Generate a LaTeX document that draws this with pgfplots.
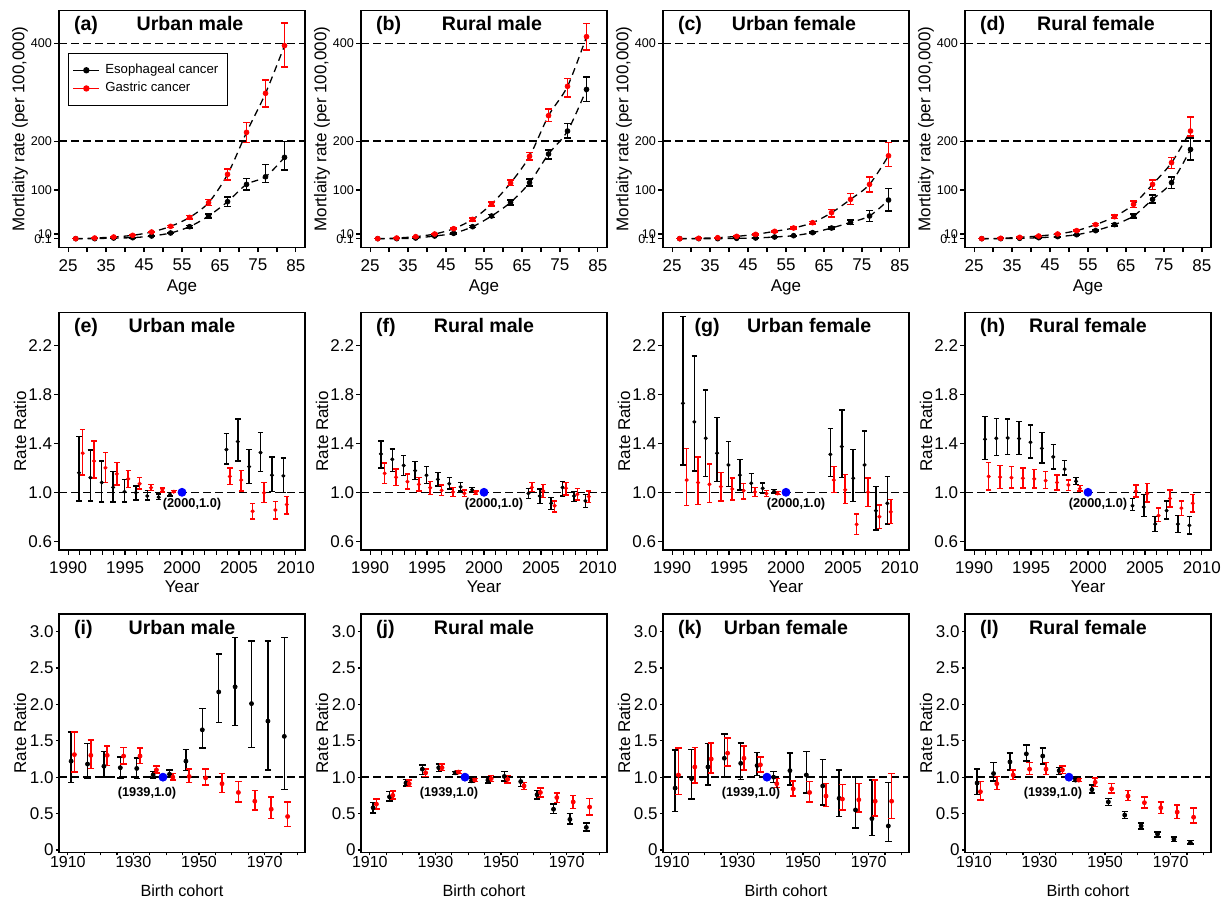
\documentclass[border=0pt]{standalone}
\usepackage{fontspec}
\setmainfont{Liberation Sans}
\usepackage{pgfplots}
\usepackage{pgfplotstable}
\pgfplotsset{compat=1.18}

\newcommand{\tk}{\fontsize{8.5}{10}\selectfont}
\newcommand{\tf}{\fontsize{9.8}{11}\selectfont\bfseries}
\newcommand{\an}{\fontsize{6.4}{7.5}\selectfont\bfseries}

% age curves: age, esophageal (y, low, high), gastric (y, low, high)
\pgfplotstableread{
age yb lb hb yr lr hr
27 0.3 0.2 0.4 0.3 0.2 0.4
32 0.3 0.2 0.4 1.6 1.3 1.9
37 1.6 1.3 1.9 3.7 3.2 4.2
42 2.3 1.9 2.7 7.1 6.3 7.9
47 5.7 5.0 6.4 13.9 12.6 15.2
52 11.9 10.6 13.2 25.5 23.5 27.5
57 24.8 22.5 27.1 43.9 40.5 47.3
62 46.7 42.5 50.9 74 68 81
67 76 66 86 132 120 143
72 111.5 100 124 218 197 238
77 127 115 152 298 270 325
82 166.8 141 199 395.6 352 442
}\tabA
\pgfplotstableread{
age yb lb hb yr lr hr
27 0.3 0.2 0.4 0.3 0.2 0.4
32 0.3 0.2 0.4 1.6 1.3 1.9
37 1.6 1.3 1.9 4.4 3.9 4.9
42 5.7 5.0 6.4 9.8 8.9 10.7
47 11.2 10.1 12.3 20.7 19.0 22.4
52 24.8 22.8 26.8 39.8 36.8 42.8
57 46.7 43.5 49.9 71.3 66.8 75.8
62 74.7 69.7 79.7 114.3 109 120
67 114.9 108 122 169 161 177
72 173.6 163 182 252.2 240 266
77 220.7 206 236 312.3 290 328
82 306 281 331 413.9 387 441
}\tabB
\pgfplotstableread{
age yb lb hb yr lr hr
27 0.3 0.2 0.4 0.3 0.2 0.4
32 0.3 0.2 0.4 1.0 0.8 1.2
37 0.3 0.2 0.4 2.3 2.0 2.6
42 1.0 0.8 1.2 5.0 4.4 5.6
47 1.6 1.3 1.9 9.1 8.2 10.0
52 3.7 3.2 4.2 15.3 14.0 16.6
57 6.4 5.7 7.1 22.1 20.3 23.9
62 12.6 11.4 13.8 33.0 30.4 35.6
67 22.1 19.9 24.3 53.5 45 60
72 33.7 29 39 80.8 70 93
77 46.7 35 58 111.5 96 127
82 79.4 57 103 170 148 197
}\tabC
\pgfplotstableread{
age yb lb hb yr lr hr
27 0.3 0.2 0.4 0.3 0.2 0.4
32 0.3 0.2 0.4 1.0 0.8 1.2
37 1.0 0.8 1.2 3.0 2.6 3.4
42 2.3 2.0 2.6 5.7 5.1 6.3
47 4.4 3.9 4.9 9.8 8.9 10.7
52 8.4 7.6 9.2 16.7 15.3 18.1
57 16.7 15.2 18.2 29.0 26.8 31.2
62 29.0 26.6 31.4 45.3 42.0 48.6
67 46.7 43.0 50.4 70.6 64 77
72 80.8 73 90 111.5 101 120
77 115 103 127 155.9 144 167
82 183 161 206 220.7 211 249
}\tabD

% period rate ratios
\pgfplotstableread{
xb yb lb hb xr yr lr hr
1990.95 1.16 0.93 1.455 1991.28 1.32 1.14 1.515
1991.95 1.12 0.93 1.346 1992.28 1.256 1.115 1.42
1992.95 1.08 0.92 1.256 1993.28 1.2 1.08 1.327
1993.95 1.04 0.92 1.17 1994.28 1.15 1.06 1.245
1994.95 1.005 0.92 1.106 1995.28 1.11 1.04 1.177
1995.95 0.997 0.937 1.05 1996.28 1.07 1.027 1.12
1996.95 0.97 0.937 1.014 1997.28 1.038 1.014 1.065
1997.95 0.96 0.943 0.986 1998.28 1.02 1.003 1.035
1998.95 0.984 0.97 0.997 1999.28 1.005 0.997 1.014
2003.9 1.35 1.23 1.48 2004.2 1.13 1.065 1.2
2004.9 1.415 1.255 1.6 2005.2 1.1 1.01 1.18
2005.9 1.21 1.074 1.35 2006.2 0.845 0.78 0.91
2006.9 1.325 1.17 1.49 2007.2 0.997 0.918 1.08
2007.9 1.14 1.005 1.29 2008.2 0.855 0.78 0.924
2008.9 1.134 0.997 1.28 2009.2 0.9 0.823 0.965
}\tabE
\pgfplotstableread{
xb yb lb hb xr yr lr hr
1990.95 1.314 1.2 1.42 1991.28 1.155 1.074 1.24
1991.95 1.27 1.17 1.355 1992.28 1.123 1.055 1.19
1992.95 1.22 1.136 1.3 1993.28 1.087 1.027 1.15
1993.95 1.177 1.106 1.25 1994.28 1.065 1.01 1.12
1994.95 1.14 1.074 1.21 1995.28 1.038 0.984 1.087
1995.95 1.106 1.05 1.16 1996.28 1.016 0.973 1.06
1996.95 1.07 1.025 1.12 1997.28 1.003 0.965 1.04
1997.95 1.044 1.01 1.08 1998.28 0.992 0.965 1.02
1998.95 1.02 1.005 1.04 1999.28 0.995 0.98 1.01
2003.9 0.992 0.95 1.03 2004.2 1.04 1.005 1.08
2004.9 0.97 0.91 1.027 2005.2 1.01 0.956 1.065
2005.9 0.91 0.86 0.956 2006.2 0.89 0.84 0.93
2006.9 1.04 0.97 1.09 2007.2 1.033 0.978 1.08
2007.9 0.97 0.924 1.005 2008.2 0.984 0.937 1.033
2008.9 0.93 0.877 0.98 2009.2 0.965 0.918 1.01
}\tabF
\pgfplotstableread{
xb yb lb hb xr yr lr hr
1990.95 1.728 1.224 2.44 1991.28 1.1 0.89 1.36
1991.95 1.576 1.175 2.116 1992.28 1.08 0.9 1.29
1992.95 1.442 1.128 1.837 1993.28 1.065 0.915 1.23
1993.95 1.32 1.087 1.61 1994.28 1.046 0.93 1.164
1994.95 1.224 1.046 1.415 1995.28 1.027 0.937 1.115
1995.95 1.14 1.02 1.27 1996.28 1.014 0.945 1.074
1996.95 1.074 1.0 1.155 1997.28 1.003 0.965 1.04
1997.95 1.033 0.992 1.076 1998.28 0.99 0.967 1.014
1998.95 1.008 0.992 1.025 1999.28 0.99 0.984 1.005
2003.9 1.31 1.128 1.52 2004.2 1.1 1.0 1.21
2004.9 1.374 1.12 1.674 2005.2 1.02 0.91 1.147
2005.9 1.115 0.924 1.35 2006.2 0.738 0.656 0.823
2006.9 1.224 1.0 1.5 2007.2 1.0 0.883 1.115
2007.9 0.85 0.69 1.046 2008.2 0.8 0.705 0.896
2008.9 0.91 0.74 1.128 2009.2 0.84 0.746 0.943
}\tabG
\pgfplotstableread{
xb yb lb hb xr yr lr hr
1990.95 1.434 1.27 1.62 1991.28 1.13 1.02 1.245
1991.95 1.442 1.30 1.605 1992.28 1.125 1.03 1.22
1992.95 1.445 1.31 1.6 1993.28 1.12 1.035 1.21
1993.95 1.44 1.31 1.58 1994.28 1.115 1.035 1.2
1994.95 1.41 1.28 1.55 1995.28 1.11 1.035 1.185
1995.95 1.36 1.24 1.49 1996.28 1.095 1.03 1.17
1996.95 1.29 1.19 1.39 1997.28 1.08 1.02 1.14
1997.95 1.19 1.14 1.26 1998.28 1.06 1.015 1.1
1998.95 1.09 1.065 1.12 1999.28 1.03 1.01 1.055
2003.9 0.89 0.85 0.95 2004.2 1.01 0.96 1.06
2004.9 0.88 0.8 0.98 2005.2 0.99 0.92 1.07
2005.9 0.74 0.68 0.8 2006.2 0.81 0.76 0.87
2006.9 0.85 0.78 0.93 2007.2 0.95 0.88 1.02
2007.9 0.74 0.67 0.81 2008.2 0.87 0.81 0.93
2008.9 0.73 0.66 0.8 2009.2 0.91 0.84 0.98
}\tabH

% cohort rate ratios
\pgfplotstableread{
xb yb lb hb xr yr lr hr
1911 1.22 0.93 1.62 1912 1.31 1.07 1.62
1916 1.18 0.98 1.46 1917 1.30 1.12 1.51
1921 1.15 1.00 1.35 1922 1.30 1.16 1.43
1926 1.13 0.99 1.28 1927 1.29 1.18 1.41
1931 1.12 0.98 1.26 1932 1.29 1.19 1.40
1936 1.03 0.99 1.08 1937 1.10 1.06 1.15
1941 1.04 1.00 1.10 1942 1.00 0.96 1.05
1946 1.22 1.09 1.38 1947 1.01 0.93 1.11
1951 1.65 1.40 1.94 1952 0.99 0.89 1.11
1956 2.17 1.75 2.69 1957 0.91 0.79 1.05
1961 2.24 1.71 2.92 1962 0.79 0.66 0.94
1966 2.01 1.41 2.87 1967 0.67 0.55 0.82
1971 1.77 1.10 2.87 1972 0.56 0.43 0.73
1976 1.56 0.83 2.92 1977 0.46 0.32 0.66
}\tabI
\pgfplotstableread{
xb yb lb hb xr yr lr hr
1911 0.58 0.51 0.65 1912 0.63 0.56 0.70
1916 0.73 0.67 0.80 1917 0.75 0.70 0.81
1921 0.92 0.88 0.97 1922 0.91 0.87 0.96
1926 1.11 1.04 1.17 1927 1.06 1.01 1.11
1931 1.13 1.08 1.18 1932 1.13 1.09 1.18
1936 1.06 1.04 1.08 1937 1.07 1.05 1.09
1941 0.95 0.93 0.98 1942 0.96 0.94 0.98
1946 0.96 0.92 1.00 1947 0.98 0.94 1.02
1951 1.01 0.95 1.08 1952 0.97 0.92 1.02
1956 0.94 0.87 1.01 1957 0.88 0.83 0.93
1961 0.76 0.70 0.82 1962 0.79 0.73 0.85
1966 0.56 0.50 0.63 1967 0.72 0.65 0.78
1971 0.42 0.36 0.50 1972 0.66 0.57 0.75
1976 0.31 0.26 0.37 1977 0.59 0.48 0.71
}\tabJ
\pgfplotstableread{
xb yb lb hb xr yr lr hr
1911 0.85 0.53 1.37 1912 1.03 0.76 1.40
1916 0.98 0.70 1.38 1917 1.14 0.92 1.41
1921 1.14 0.89 1.46 1922 1.25 1.06 1.47
1926 1.26 1.00 1.59 1927 1.33 1.15 1.54
1931 1.19 0.97 1.47 1932 1.26 1.10 1.43
1936 1.16 1.02 1.34 1937 1.17 1.07 1.28
1941 1.00 0.93 1.08 1942 0.91 0.86 0.98
1946 1.09 0.89 1.33 1947 0.84 0.74 0.95
1951 1.03 0.78 1.35 1952 0.79 0.66 0.94
1956 0.88 0.62 1.24 1957 0.74 0.60 0.91
1961 0.71 0.46 1.10 1962 0.70 0.55 0.90
1966 0.55 0.30 1.00 1967 0.69 0.52 0.91
1971 0.43 0.20 0.96 1972 0.67 0.47 0.96
1976 0.33 0.12 0.93 1977 0.67 0.43 1.05
}\tabK
\pgfplotstableread{
xb yb lb hb xr yr lr hr
1911 0.92 0.76 1.11 1912 0.80 0.69 0.94
1916 1.05 0.95 1.20 1917 0.91 0.83 1.01
1921 1.21 1.10 1.33 1922 1.03 0.97 1.10
1926 1.32 1.22 1.44 1927 1.11 1.04 1.20
1931 1.29 1.18 1.40 1932 1.11 1.04 1.20
1936 1.09 1.04 1.13 1937 1.10 1.05 1.15
1941 0.96 0.94 0.98 1942 0.96 0.94 0.98
1946 0.83 0.78 0.89 1947 0.93 0.87 0.99
1951 0.66 0.61 0.71 1952 0.84 0.78 0.91
1956 0.48 0.43 0.53 1957 0.74 0.68 0.82
1961 0.33 0.29 0.37 1962 0.65 0.58 0.73
1966 0.22 0.18 0.25 1967 0.58 0.50 0.66
1971 0.15 0.12 0.18 1972 0.52 0.43 0.62
1976 0.10 0.08 0.13 1977 0.45 0.37 0.58
}\tabL

\pgfplotsset{
  base/.style={scale only axis, width=123pt, anchor=south west,
    axis line style={line width=0.7pt},
    tick align=outside, tick pos=left, major tick length=2.3pt,
    every tick/.style={black, line width=0.6pt},
    tick label style={font=\tk}, label style={font=\tk},
    yticklabel style={inner xsep=1pt},
    ylabel style={at={(axis description cs:-0.1585,0.5)}, anchor=center},
    /pgf/number format/assume math mode=true},
  rowA/.style={base, height=118.65pt,
    xmin=22.6, xmax=87.4, ymin=-18, ymax=468,
    xtick={25,30,...,85}, xticklabels={25,,35,,45,,55,,65,,75,,85},
    ytick={0.1,10,100,200,400}, yticklabels={0.1,10,100,200,400},
    yticklabel style={font=\fontsize{6.3}{7}\selectfont},
    xlabel={Age}, ylabel={Mortlaity rate (per 100,000)},
    xlabel style={at={(axis description cs:0.5,-0.166)}, anchor=center}},
  rowB/.style={base, height=118.8pt,
    xmin=1989.2, xmax=2010.8, ymin=0.528, ymax=2.472,
    xtick={1990,1991,...,2010},
    xticklabels={1990,,,,,1995,,,,,2000,,,,,2005,,,,,2010},
    ytick={0.6,1.0,1.4,1.8,2.2}, yticklabels={0.6,1.0,1.4,1.8,2.2},
    xlabel={Year}, ylabel={Rate Ratio},
    xlabel style={at={(axis description cs:0.5,-0.156)}, anchor=center}},
  rowC/.style={base, height=119.25pt,
    xmin=1907.3, xmax=1982.3, ymin=-0.034, ymax=3.24,
    major tick length=1.5pt,
    xtick={1910,1915,...,1980},
    xticklabels={1910,,,,1930,,,,1950,,,,1970,,},
    xticklabel style={font=\fontsize{8}{9.5}\selectfont, yshift=3pt},
    ytick={0,0.5,1,1.5,2,2.5,3}, yticklabels={0,0.5,1.0,1.5,2.0,2.5,3.0},
    xlabel={Birth cohort}, ylabel={Rate Ratio},
    xlabel style={font=\fontsize{8.1}{9.5}\selectfont,
      at={(axis description cs:0.5,-0.159)}, anchor=center}},
}

% #1 letter x, #2 letter, #3 title x, #4 title, #5 baseline y
\newcommand{\ptitle}[5]{%
  \node[anchor=base west, font=\tf] at (axis description cs:#1,#5) {#2};
  \node[anchor=base, font=\tf] at (axis description cs:#3,#5) {#4};}

\newcommand{\refline}[3]{%
  \addplot[black, line width=0.75pt, dash pattern=on 4pt off 2pt, forget plot]
    coordinates {(#1,#3) (#2,#3)};}

% #1 table, #2 column, #3 colour, #4 x column, #5 low, #6 high, #7 mark size, #8 cap
\newcommand{\bars}[8]{%
  \addplot[#3, only marks, mark=*, mark size=#7, forget plot,
    error bars/y dir=both, error bars/y explicit,
    error bars/error bar style={line width=0.75pt},
    error bars/error mark options={rotate=90, line width=0.75pt, mark size=#8}]
    table[x=#4, y=#2, y error plus expr=\thisrow{#6}-\thisrow{#2},
          y error minus expr=\thisrow{#2}-\thisrow{#5}] {#1};}

\newcommand{\mort}[1]{%
  \refline{22.6}{87.4}{200}\refline{22.6}{87.4}{400}
  \addplot[black, line width=0.65pt, dash pattern=on 3.5pt off 2.5pt, smooth, forget plot]
    table[x=age, y=yb] {#1};
  \addplot[black, line width=0.65pt, dash pattern=on 3.5pt off 2.5pt, smooth, forget plot]
    table[x=age, y=yr] {#1};
  \bars{#1}{yb}{black}{age}{lb}{hb}{1.2pt}{1.7pt}
  \bars{#1}{yr}{red}{age}{lr}{hr}{1.2pt}{1.7pt}}

\newcommand{\period}[1]{%
  \refline{1989.2}{2010.8}{1}
  \bars{#1}{yb}{black}{xb}{lb}{hb}{0.8pt}{1.35pt}
  \bars{#1}{yr}{red}{xr}{lr}{hr}{0.8pt}{1.35pt}
  \addplot[blue, only marks, mark=*, mark size=2pt, forget plot] coordinates {(2000,1)};
  \node[font=\an, xshift=5pt, yshift=-6pt] at (axis cs:2000,1) {(2000,1.0)};}

\newcommand{\cohort}[1]{%
  \refline{1907.3}{1982.3}{1}
  \bars{#1}{yb}{black}{xb}{lb}{hb}{1pt}{1.6pt}
  \bars{#1}{yr}{red}{xr}{lr}{hr}{1pt}{1.6pt}
  \addplot[blue, only marks, mark=*, mark size=2pt, forget plot] coordinates {(1939,1)};
  \node[font=\an, xshift=-8pt, yshift=-8pt] at (axis cs:1939,1) {(1939,1.0)};}

\begin{document}
\begin{tikzpicture}
\useasboundingbox (0,0) rectangle (611.5pt,450pt);

% ---- row 1: age effects
\begin{axis}[rowA, at={(29.5pt,326.2pt)},
  legend style={at={(axis description cs:0.0366,0.82)}, anchor=north west,
    font=\fontsize{6.6}{7.6}\selectfont, draw=black, line width=0.6pt,
    inner xsep=2pt, inner ysep=3.8pt, row sep=0pt,
    nodes={inner xsep=2.6pt, inner ysep=1.4pt}},
  legend cell align=left,
  legend image code/.code={\draw[mark repeat=2, mark phase=2, #1]
    plot coordinates {(0pt,0pt) (6.5pt,0pt) (13pt,0pt)};}]
\addlegendimage{black, line width=0.75pt, mark=*, mark size=1.2pt}
\addlegendentry{Esophageal cancer}
\addlegendimage{red, line width=0.75pt, mark=*, mark size=1.2pt}
\addlegendentry{Gastric cancer}
\mort{\tabA}
\ptitle{0.0325}{(a)}{0.5325}{Urban male}{0.916}
\end{axis}
\begin{axis}[rowA, at={(180.5pt,326.2pt)}]
\mort{\tabB}
\ptitle{0.0325}{(b)}{0.5325}{Rural male}{0.916}
\end{axis}
\begin{axis}[rowA, at={(331.5pt,326.2pt)}]
\mort{\tabC}
\ptitle{0.0325}{(c)}{0.5325}{Urban female}{0.916}
\end{axis}
\begin{axis}[rowA, at={(482.5pt,326.2pt)}]
\mort{\tabD}
\ptitle{0.0325}{(d)}{0.5325}{Rural female}{0.916}
\end{axis}

% ---- row 2: period effects
\begin{axis}[rowB, at={(29.5pt,175pt)}]
\period{\tabE}
\ptitle{0.0325}{(e)}{0.5}{Urban male}{0.916}
\end{axis}
\begin{axis}[rowB, at={(180.5pt,175pt)}]
\period{\tabF}
\ptitle{0.0325}{(f)}{0.5}{Rural male}{0.916}
\end{axis}
\begin{axis}[rowB, at={(331.5pt,175pt)}]
\period{\tabG}
\ptitle{0.1}{(g)}{0.594}{Urban female}{0.916}
\end{axis}
\begin{axis}[rowB, at={(482.5pt,175pt)}]
\period{\tabH}
\ptitle{0.0325}{(h)}{0.5}{Rural female}{0.916}
\end{axis}

% ---- row 3: cohort effects
\begin{axis}[rowC, at={(29.5pt,23.75pt)}]
\cohort{\tabI}
\ptitle{0.0325}{(i)}{0.5}{Urban male}{0.916}
\end{axis}
\begin{axis}[rowC, at={(180.5pt,23.75pt)}]
\cohort{\tabJ}
\ptitle{0.0325}{(j)}{0.5}{Rural male}{0.916}
\end{axis}
\begin{axis}[rowC, at={(331.5pt,23.75pt)}]
\cohort{\tabK}
\ptitle{0.0325}{(k)}{0.5}{Urban female}{0.916}
\end{axis}
\begin{axis}[rowC, at={(482.5pt,23.75pt)}]
\cohort{\tabL}
\ptitle{0.0325}{(l)}{0.5}{Rural female}{0.916}
\end{axis}
\end{tikzpicture}
\end{document}
